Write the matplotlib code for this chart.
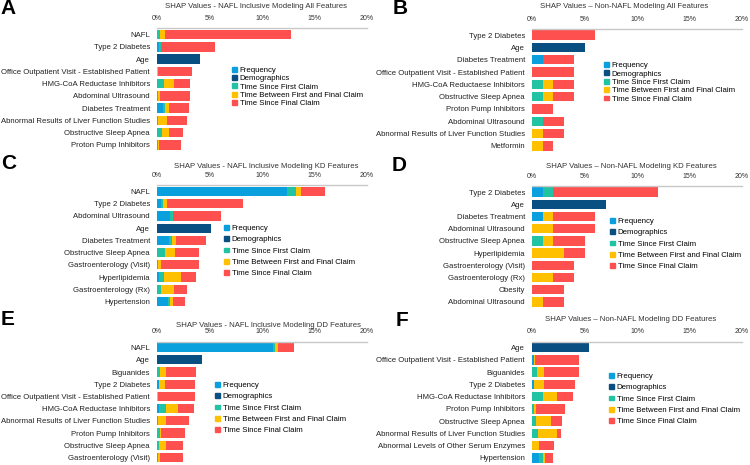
import matplotlib
matplotlib.use('Agg')
import matplotlib.pyplot as plt
from matplotlib.patches import Patch
import numpy as np

plt.rcParams['font.family'] = ['Liberation Sans', 'DejaVu Sans']

W, H = 750, 465

segments = ['Frequency', 'Demographics', 'Time Since First Claim',
            'Time Between First and Final Claim', 'Time Since Final Claim']
colors = ['#0AA0DE', '#0A4F82', '#22C3A3', '#FFC000', '#FF5050']
ticks = [0, 5, 10, 15, 20]
tick_labels = ['0%', '5%', '10%', '15%', '20%']

# A - NAFL inclusive, all features
a_labels = ['NAFL', 'Type 2 Diabetes', 'Age', 'Office Outpatient Visit - Established Patient',
            'HMG-CoA Reductase Inhibitors', 'Abdominal Ultrasound', 'Diabetes Treatment',
            'Abnormal Results of Liver Function Studies', 'Obstructive Sleep Apnea',
            'Proton Pump Inhibitors']
a_freq = [0, 0.2, 0, 0, 0, 0, 0.55, 0, 0, 0]
a_demo = [0, 0, 4.1, 0, 0, 0, 0, 0, 0, 0]
a_first = [0.3, 0.15, 0, 0, 0.7, 0.1, 0.2, 0.1, 0.45, 0.1]
a_between = [0.5, 0.05, 0, 0.1, 0.95, 0.15, 0.35, 0.85, 0.65, 0.1]
a_final = [12.0, 5.1, 0, 3.2, 1.45, 2.85, 1.9, 1.95, 1.4, 2.1]

# B - Non-NAFL, all features
b_labels = ['Type 2 Diabetes', 'Age', 'Diabetes Treatment',
            'Office Outpatient Visit - Established Patient', 'HMG-CoA Reductaese Inhibitors',
            'Obstructive Sleep Apnea', 'Proton Pump Inhibitors', 'Abdominal Ultrasound',
            'Abnormal Results of Liver Function Studies', 'Metformin']
b_freq = [0, 0, 1, 0, 0, 0, 0, 0, 0, 0]
b_demo = [0, 5, 0, 0, 0, 0, 0, 0, 0, 0]
b_first = [0, 0, 0, 0, 1, 1, 0, 1, 0, 0]
b_between = [0, 0, 0, 0, 1, 1, 0, 0, 1, 1]
b_final = [6, 0, 3, 4, 2, 2, 2, 2, 2, 1]

# C - NAFL inclusive, KD features
c_labels = ['NAFL', 'Type 2 Diabetes', 'Abdominal Ultrasound', 'Age', 'Diabetes Treatment',
            'Obstructive Sleep Apnea', 'Gastroenterology (Visit)', 'Hyperlipidemia',
            'Gastroenterology (Rx)', 'Hypertension']
c_freq = [12.4, 0.35, 1.2, 0, 1.17, 0, 0, 0.2, 0, 1.05]
c_demo = [0, 0, 0, 5.1, 0, 0, 0, 0, 0, 0]
c_first = [0.8, 0.25, 0.3, 0, 0.3, 0.73, 0.1, 0.5, 0.4, 0.15]
c_between = [0.5, 0.35, 0.05, 0, 0.3, 0.95, 0.3, 1.55, 1.2, 0.3]
c_final = [2.3, 7.25, 4.5, 0, 2.9, 2.3, 3.6, 1.5, 1.3, 1.17]

# D - Non-NAFL, KD features
d_labels = ['Type 2 Diabetes', 'Age', 'Diabetes Treatment', 'Abdominal Ultrasound',
            'Obstructive Sleep Apnea', 'Hyperlipidemia', 'Gastroenterology (Visit)',
            'Gastroenterology (Rx)', 'Obesity', 'Abdominal Ultrasound']
d_freq = [1, 0, 1, 0, 0, 0, 0, 0, 0, 0]
d_demo = [0, 7, 0, 0, 0, 0, 0, 0, 0, 0]
d_first = [1, 0, 0, 0, 1, 0, 0, 0, 0, 0]
d_between = [0, 0, 1, 2, 1, 3, 0, 2, 0, 1]
d_final = [10, 0, 4, 4, 3, 2, 4, 2, 3, 2]

# E - NAFL inclusive, DD features
e_labels = ['NAFL', 'Age', 'Biguanides', 'Type 2 Diabetes',
            'Office Outpatient Visit - Established Patient', 'HMG-CoA Reductase Inhibitors',
            'Abnormal Results of Liver Function Studies', 'Proton Pump Inhibitors',
            'Obstructive Sleep Apnea', 'Gastroenterology (Visit)']
e_freq = [11.0, 0, 0, 0.2, 0, 0.2, 0, 0, 0, 0]
e_demo = [0, 4.3, 0, 0, 0, 0, 0, 0, 0, 0]
e_first = [0.2, 0, 0.3, 0, 0, 0.67, 0.1, 0.3, 0.2, 0.1]
e_between = [0.3, 0, 0.55, 0.6, 0.1, 1.15, 0.75, 0.05, 0.65, 0.2]
e_final = [1.5, 0, 2.85, 2.8, 3.5, 1.48, 2.15, 2.3, 1.65, 2.2]

# F - Non-NAFL, DD features
f_labels = ['Age', 'Office Outpatient Visit - Established Patient', 'Biguanides',
            'Type 2 Diabetes', 'HMG-CoA Reductase Inhibitors', 'Proton Pump Inhibitors',
            'Obstructive Sleep Apnea', 'Abnormal Results of Liver Function Studies',
            'Abnormal Levels of Other Serum Enzymes', 'Hypertension']
f_freq = [0, 0.2, 0, 0.2, 0, 0, 0, 0, 0, 0.7]
f_demo = [5.45, 0, 0, 0, 0, 0, 0, 0, 0, 0]
f_first = [0, 0, 0.5, 0, 1.0, 0.2, 0.4, 0.55, 0, 0.3]
f_between = [0, 0.1, 0.65, 0.9, 1.35, 0.15, 1.45, 1.85, 0.7, 0.25]
f_final = [0, 4.2, 3.35, 2.95, 1.6, 2.8, 1.0, 0.35, 1.4, 0.72]

fig = plt.figure(figsize=(7.5, 4.65), dpi=100)


def panel(x0, top, bottom, labels, parts, title, title_x, title_y,
          letter, letter_xy, leg_xy, leg_sp):
    ax = fig.add_axes([x0 / W, 1 - bottom / H, 210 / W, (bottom - top) / H])
    y = np.arange(len(labels))
    left = np.zeros(len(labels))
    for vals, c in zip(parts, colors):
        vals = np.array(vals, dtype=float)
        ax.barh(y, vals, left=left, height=0.76, color=c, linewidth=0)
        left += vals
    ax.set_xlim(0, 20)
    ax.set_ylim(len(labels) - 0.5, -0.5)
    ax.set_yticks(y)
    ax.set_yticklabels(labels, fontsize=5.6, color='#222222')
    ax.xaxis.tick_top()
    ax.set_xticks(ticks)
    ax.set_xticklabels(tick_labels, fontsize=5.0, color='#333333')
    ax.tick_params(axis='both', length=0)
    ax.tick_params(axis='x', pad=4.5)
    ax.tick_params(axis='y', pad=5)
    for s in ['bottom', 'left', 'right']:
        ax.spines[s].set_visible(False)
    ax.spines['top'].set_color('#C8C8C8')
    ax.spines['top'].set_linewidth(1.0)

    # title and panel letter
    fig.text(title_x / W, 1 - title_y / H, title, fontsize=5.6, color='#333333',
             ha='center', va='center')
    fig.text(letter_xy[0] / W, 1 - letter_xy[1] / H, letter, fontsize=15,
             fontweight='bold', ha='left', va='center')

    handles = [Patch(color=c, label=s) for c, s in zip(colors, segments)]
    ax.legend(handles=handles, loc='upper left',
              bbox_to_anchor=(leg_xy[0] / W, 1 - leg_xy[1] / H),
              bbox_transform=fig.transFigure, frameon=False, fontsize=5.6,
              handlelength=0.6, handleheight=0.6, handletextpad=0.4,
              labelspacing=leg_sp, borderpad=0, borderaxespad=0)


panel(157, 28.5, 151, a_labels, [a_freq, a_demo, a_first, a_between, a_final],
      'SHAP Values - NAFL Inclusive Modeling All Features', 256, 6,
      'A', (0, 8), (232, 67), 0.13)
panel(532, 29, 152, b_labels, [b_freq, b_demo, b_first, b_between, b_final],
      'SHAP Values \u2013 Non-NAFL Modeling All Features', 624, 7,
      'B', (393, 9), (604, 62), 0.15)
panel(157, 185.5, 307.5, c_labels, [c_freq, c_demo, c_first, c_between, c_final],
      'SHAP Values - NAFL Inclusive Modeling KD Features', 266, 167,
      'C', (1, 163), (224, 225), 0.52)
panel(532, 186, 308, d_labels, [d_freq, d_demo, d_first, d_between, d_final],
      'SHAP Values \u2013 Non-NAFL Modeling KD Features', 631, 167,
      'D', (392, 165), (610, 218), 0.52)
panel(157, 341.5, 463.5, e_labels, [e_freq, e_demo, e_first, e_between, e_final],
      'SHAP Values - NAFL Inclusive Modeling DD Features', 268, 325,
      'E', (1, 319), (215, 382), 0.52)
panel(532, 341.5, 464, f_labels, [f_freq, f_demo, f_first, f_between, f_final],
      'SHAP Values \u2013 Non-NAFL Modeling DD Features', 631, 319,
      'F', (396, 320), (609, 373), 0.52)

fig.savefig('out.png', dpi=100)
